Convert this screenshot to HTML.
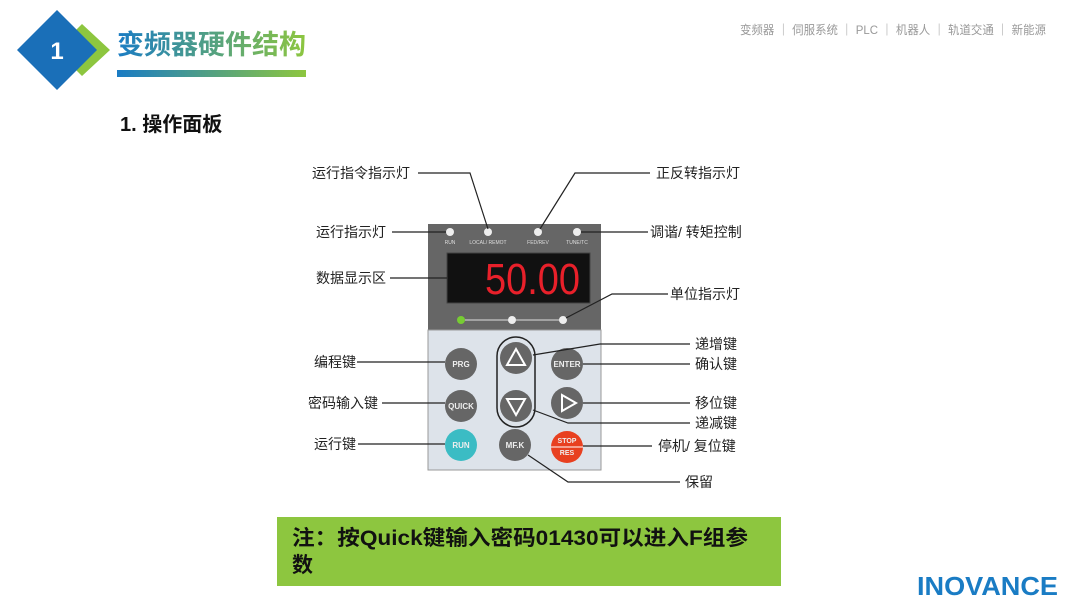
<!DOCTYPE html>
<html><head><meta charset="utf-8"><style>
body{margin:0;width:1080px;height:607px;background:#fff;overflow:hidden;font-family:"Liberation Sans","Noto Sans CJK SC",sans-serif}
svg text{font-family:"Liberation Sans","Noto Sans CJK SC",sans-serif}
</style></head><body>
<svg width="1080" height="607" viewBox="0 0 1080 607" xmlns="http://www.w3.org/2000/svg">
<defs>
<linearGradient id="g1" x1="0" x2="1"><stop offset="0" stop-color="#1a7cc4"/><stop offset="1" stop-color="#8dc63f"/></linearGradient>
</defs>
<polygon points="82,24 110,50 82,76 74,68 92,50 74,32" fill="#8dc63f"/>
<polygon points="57,10 97,50 57,90 17,50" fill="#1a6fb8"/>
<text x="57" y="59" fill="#fff" font-size="24" font-weight="bold" text-anchor="middle">1</text>
<text x="117" y="54" fill="url(#g1)" font-size="27" font-weight="bold" textLength="189" lengthAdjust="spacingAndGlyphs">变频器硬件结构</text>
<rect x="117" y="70" width="189" height="7" fill="url(#g1)"/>
<text x="740" y="34" fill="#999" font-size="12" textLength="306" lengthAdjust="spacingAndGlyphs">变频器 ｜ 伺服系统 ｜ PLC ｜ 机器人 ｜ 轨道交通 ｜ 新能源</text>
<text x="120" y="131" fill="#111" font-size="20" font-weight="bold">1. 操作面板</text>

<!-- panel -->
<rect x="428" y="224" width="173" height="107" fill="#666"/>
<rect x="428" y="330" width="173" height="140" fill="#dde3ea" stroke="#999" stroke-width="1"/>
<rect x="447" y="253" width="143" height="50" fill="#111" stroke="#444"/>
<text x="580" y="294" fill="#e8202a" font-size="44" text-anchor="end" font-family="Liberation Sans Narrow, Liberation Sans" textLength="95" lengthAdjust="spacingAndGlyphs">50.00</text>
<g fill="#eee"><circle cx="450" cy="232" r="4"/><circle cx="488" cy="232" r="4"/><circle cx="538" cy="232" r="4"/><circle cx="577" cy="232" r="4"/></g>
<g fill="#ddd" font-size="5" text-anchor="middle"><text x="450" y="244">RUN</text><text x="488" y="244">LOCAL/ REMOT</text><text x="538" y="244">FED/REV</text><text x="577" y="244">TUNE/TC</text></g>
<line x1="461" y1="320" x2="563" y2="320" stroke="#ddd" stroke-width="1"/>
<circle cx="461" cy="320" r="4" fill="#7c3"/><circle cx="512" cy="320" r="4" fill="#eee"/><circle cx="563" cy="320" r="4" fill="#eee"/>
<rect x="497" y="337" width="38" height="90" rx="19" fill="none" stroke="#222" stroke-width="1.5"/>
<g fill="#666"><circle cx="461" cy="364" r="16"/><circle cx="516" cy="358" r="16"/><circle cx="567" cy="364" r="16"/><circle cx="461" cy="406" r="16"/><circle cx="516" cy="406" r="16"/><circle cx="567" cy="403" r="16"/><circle cx="515" cy="445" r="16"/></g>
<circle cx="461" cy="445" r="16" fill="#3bbcc4"/><circle cx="567" cy="447" r="16" fill="#e84020"/>
<line x1="551" y1="447" x2="583" y2="447" stroke="#fff"/>
<g fill="#eee" font-size="8" font-weight="bold" text-anchor="middle"><text x="461" y="367">PRG</text><text x="567" y="367">ENTER</text><text x="461" y="409">QUICK</text><text x="461" y="448">RUN</text><text x="515" y="448">MF.K</text><text x="567" y="443" font-size="7">STOP</text><text x="567" y="455" font-size="7">RES</text></g>
<g fill="none" stroke="#fff" stroke-width="2"><polygon points="516,349 525,365 507,365"/><polygon points="516,415 525,399 507,399"/><polygon points="562,395 576,403 562,411"/></g>

<!-- callouts -->
<g stroke="#222" stroke-width="1.2" fill="none">
<polyline points="418,173 470,173 488,229"/>
<polyline points="650,173 575,173 540,229"/>
<line x1="392" y1="232" x2="446" y2="232"/>
<line x1="581" y1="232" x2="648" y2="232"/>
<line x1="390" y1="278" x2="447" y2="278"/>
<polyline points="668,294 612,294 566,318"/>
<polyline points="690,344 600,344 533,355"/>
<line x1="583" y1="364" x2="690" y2="364"/>
<line x1="357" y1="362" x2="445" y2="362"/>
<line x1="382" y1="403" x2="445" y2="403"/>
<line x1="583" y1="403" x2="690" y2="403"/>
<polyline points="533,410 568,423 690,423"/>
<line x1="358" y1="444" x2="445" y2="444"/>
<line x1="583" y1="446" x2="652" y2="446"/>
<polyline points="528,455 568,482 680,482"/>
</g>
<g fill="#222" font-size="14">
<text x="312" y="178">运行指令指示灯</text>
<text x="656" y="178">正反转指示灯</text>
<text x="316" y="237">运行指示灯</text>
<text x="650" y="237">调谐/ 转矩控制</text>
<text x="316" y="283">数据显示区</text>
<text x="670" y="299">单位指示灯</text>
<text x="695" y="349">递增键</text>
<text x="695" y="369">确认键</text>
<text x="314" y="367">编程键</text>
<text x="308" y="408">密码输入键</text>
<text x="695" y="408">移位键</text>
<text x="695" y="428">递减键</text>
<text x="314" y="449">运行键</text>
<text x="658" y="451">停机/ 复位键</text>
<text x="685" y="487">保留</text>
</g>
<rect x="277" y="517" width="504" height="69" fill="#8dc63f"/>
<text x="292" y="545" fill="#111" font-size="21" font-weight="bold" textLength="456" lengthAdjust="spacingAndGlyphs">注：按Quick键输入密码01430可以进入F组参</text>
<text x="292" y="572" fill="#111" font-size="21" font-weight="bold">数</text>
<text x="917" y="595" fill="#1a7cc4" font-size="26" font-weight="bold" textLength="141" lengthAdjust="spacingAndGlyphs">INOVANCE</text>
</svg>
</body></html>
